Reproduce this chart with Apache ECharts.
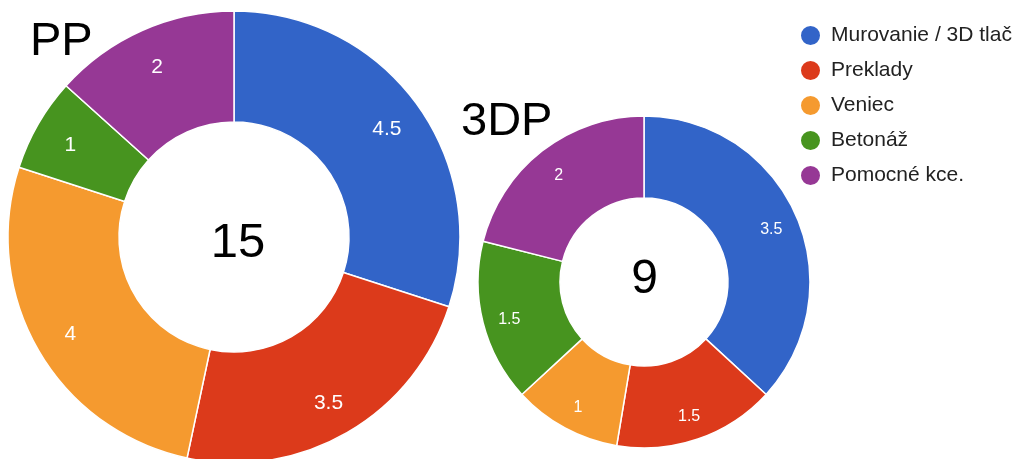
<!DOCTYPE html>
<html>
<head>
<meta charset="utf-8">
<script src="https://cdn.jsdelivr.net/npm/echarts@6/dist/echarts.min.js"></script>
<style>
  html, body { margin: 0; padding: 0; background: #fff; }
  #chart { width: 1021px; height: 459px; }
</style>
</head>
<body>
<div id="chart"></div>
<script>
// Work categories shared by both donuts
const categories = ['Murovanie / 3D tlač', 'Preklady', 'Veniec', 'Betonáž', 'Pomocné kce.'];
// Durations for conventional masonry (PP) and 3D printing (3DP)
const ppValues = [4.5, 3.5, 4, 1, 2];
const dpValues = [3.5, 1.5, 1, 1.5, 2];
const chartTitles = ['PP', '3DP'];
// Totals printed in the donut holes
const centerTotals = ['15', '9'];
const colors = ['#3264c8', '#dc3a1b', '#f59a2f', '#47941f', '#963895'];

const toData = vals => categories.map((name, i) => ({ name, value: vals[i] }));

const font = '"Liberation Sans", Arial, sans-serif';

// Visible ring (no labels)
function ring(center, radius, vals) {
  return {
    type: 'pie',
    center, radius,
    startAngle: 90,
    clockwise: true,
    avoidLabelOverlap: false,
    itemStyle: { borderColor: '#fff', borderWidth: 1.5 },
    label: { show: false },
    labelLine: { show: false },
    emphasis: { disabled: true },
    data: toData(vals)
  };
}

// Transparent overlay ring that carries the value labels further out
function labelRing(center, radius, vals, fontSize) {
  return {
    type: 'pie',
    center, radius,
    startAngle: 90,
    clockwise: true,
    silent: true,
    avoidLabelOverlap: false,
    legendHoverLink: false,
    itemStyle: { color: 'rgba(0,0,0,0)', borderWidth: 0 },
    label: { show: true, position: 'inside', formatter: '{c}', color: '#fff', fontSize, fontFamily: font },
    labelLine: { show: false },
    emphasis: { disabled: true },
    data: toData(vals)
  };
}

const chart = echarts.init(document.getElementById('chart'));
chart.setOption({
  animation: false,
  color: colors,
  textStyle: { fontFamily: font },
  legend: {
    orient: 'vertical',
    left: 794,
    top: 19,
    icon: 'circle',
    itemWidth: 21,
    itemHeight: 21,
    itemGap: 12,
    data: categories,
    textStyle: { fontSize: 21, color: '#222', fontFamily: font, padding: [0, 0, 0, 5] }
  },
  graphic: [
    { type: 'text', left: 30, top: 19, style: { text: chartTitles[0], font: '47px ' + font, fill: '#000' } },
    { type: 'text', left: 461, top: 99, style: { text: chartTitles[1], font: '47px ' + font, fill: '#000' } },
    { type: 'text', x: 238, y: 243, style: { text: centerTotals[0], font: '49px ' + font, fill: '#000', align: 'center', verticalAlign: 'middle' } },
    { type: 'text', x: 644.5, y: 279.5, style: { text: centerTotals[1], font: '48px ' + font, fill: '#000', align: 'center', verticalAlign: 'middle' } }
  ],
  series: [
    ring([234, 237], [115, 226], ppValues),
    ring([644, 282], [84, 166], dpValues),
    labelRing([234, 240], [146, 226], ppValues, 21),
    labelRing([644, 285], [106, 166], dpValues, 16)
  ]
});
</script>
</body>
</html>
